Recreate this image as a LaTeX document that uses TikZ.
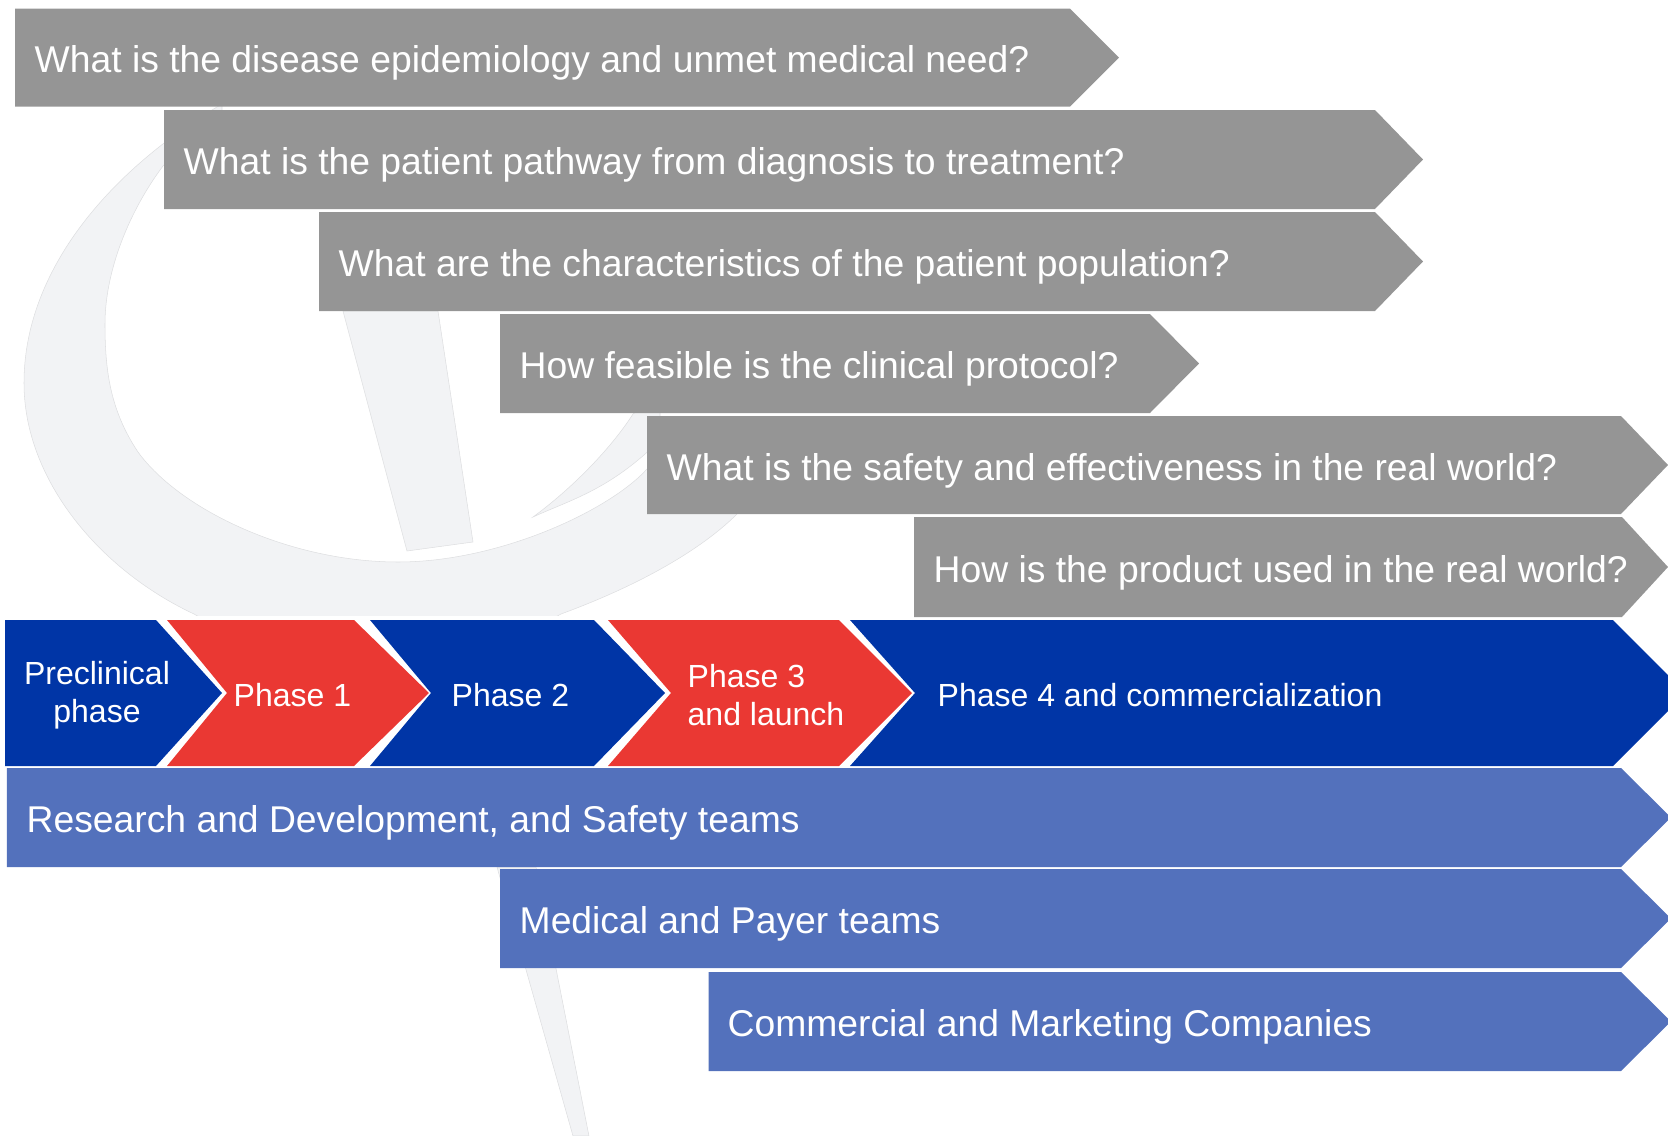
\documentclass[tikz,border=0pt]{standalone}
\usepackage{fontspec}
\setmainfont{Liberation Sans}
\definecolor{rowgray}{HTML}{959595}
\definecolor{phaseblue}{HTML}{0035A6}
\definecolor{phasered}{HTML}{EA3833}
\definecolor{teamblue}{HTML}{5371BC}
\definecolor{logogray}{HTML}{F2F3F5}
\definecolor{logoedge}{HTML}{DDDEE0}
\begin{document}
\begin{tikzpicture}[x=0.01cm,y=-0.01cm]
      \tikzstyle{logo}=[fill=logogray,draw=logoedge,line width=0.15pt]
      \tikzstyle{question}=[fill=rowgray]
      \tikzstyle{team}=[fill=teamblue]
      \tikzstyle{bluephase}=[fill=phaseblue]
      \tikzstyle{redphase}=[fill=phasered]
      \tikzstyle{rowtext}=[anchor=west,text=white,inner sep=0pt,font=\fontsize{10.6}{13}\selectfont]
      \tikzstyle{phasetext}=[text=white,inner sep=0pt,font=\fontsize{9.1}{10.8}\selectfont]
      \clip (0,0) rectangle (1668,1136);
      % logo behind the rows
      \begin{scope}
        \clip (0,0) rectangle (1668,615);
        \path[logo] (222,104) .. controls (110,170) and (24,270) .. (24,383) .. controls (24,480) and (100,570) .. (194,614) .. controls (310,680) and (470,665) .. (561,614) .. controls (640,585) and (700,550) .. (735,516) -- (800,450) -- (647,469) .. controls (610,510) and (500,562) .. (398,562) .. controls (290,562) and (180,510) .. (138,452) .. controls (110,410) and (105,370) .. (105,324) .. controls (105,270) and (130,210) .. (163,166) -- (222,112) -- cycle;
      \end{scope}
      \path[logo] (343,311) -- (438,311) -- (473,542) -- (407,551) -- cycle;
      \path[logo] (533,517) .. controls (570,500) and (610,490) .. (660,440) -- (660,395) -- (633,414) .. controls (610,450) and (570,490) .. (533,517) -- cycle;
      \path[logo] (497,867) -- (536,867) -- (589,1136) -- (573,1136) -- cycle;
      % questions
      \path[question] (15,8.5) -- (1070,8.5) -- (1119,57.5) -- (1070,106.5) -- (15,106.5) -- cycle;
      \path[question] (164,110) -- (1375,110) -- (1423,159.5) -- (1375,209) -- (164,209) -- cycle;
      \path[question] (319,212) -- (1375,212) -- (1423,261.5) -- (1375,311) -- (319,311) -- cycle;
      \path[question] (500,314) -- (1150,314) -- (1199,363.5) -- (1150,413) -- (500,413) -- cycle;
      \path[question] (647,416) -- (1621,416) -- (1668,465) -- (1621,514) -- (647,514) -- cycle;
      \path[question] (914,517) -- (1622,517) -- (1668,567) -- (1622,617) -- (914,617) -- cycle;
      \node[rowtext] (disease) at (34,63) {What is the disease epidemiology and unmet medical need?};
      \node[rowtext] (pathway) at (183,164.5) {What is the patient pathway from diagnosis to treatment?};
      \node[rowtext] (population) at (338,266.5) {What are the characteristics of the patient population?};
      \node[rowtext] (protocol) at (519,368.5) {How feasible is the clinical protocol?};
      \node[rowtext] (safety) at (666,470.5) {What is the safety and effectiveness in the real world?};
      \node[rowtext] (usage) at (933,572.5) {How is the product used in the real world?};
      % phases
      \path[bluephase] (5,620) -- (156,620) -- (222,693) -- (156,766) -- (5,766) -- cycle;
      \path[redphase] (167,620) -- (354,620) -- (429,693) -- (354,766) -- (167,766) -- (227,693) -- cycle;
      \path[bluephase] (370,620) -- (594,620) -- (665,693) -- (594,766) -- (370,766) -- (431,693) -- cycle;
      \path[redphase] (608,620) -- (839,620) -- (912,693) -- (839,766) -- (608,766) -- (671,693) -- cycle;
      \path[bluephase] (850,620) -- (1613,620) -- (1686,693) -- (1613,766) -- (850,766) -- (915,693) -- cycle;
      \node[phasetext,align=center] (preclinical) at (97,695.5) {Preclinical\\phase};
      \node[phasetext,anchor=west] (phase1) at (233,695) {Phase 1};
      \node[phasetext,anchor=west] (phase2) at (451,695) {Phase 2};
      \node[phasetext,anchor=west,align=left] (phase3) at (687,695) {Phase 3\\and launch};
      \node[phasetext,anchor=west] (phase4) at (937,695) {Phase 4 and commercialization};
      % teams
      \path[team] (7,768) -- (1621,768) -- (1671,817.5) -- (1621,867) -- (7,867) -- cycle;
      \path[team] (500,869) -- (1621,869) -- (1671,918.5) -- (1621,968) -- (500,968) -- cycle;
      \path[team] (708.5,972) -- (1621,972) -- (1671,1021.5) -- (1621,1071) -- (708.5,1071) -- cycle;
      \node[rowtext] (research) at (26,822.5) {Research and Development, and Safety teams};
      \node[rowtext] (medical) at (519,923.5) {Medical and Payer teams};
      \node[rowtext] (commercial) at (727,1026.5) {Commercial and Marketing Companies};
    \end{tikzpicture}
\end{document}
